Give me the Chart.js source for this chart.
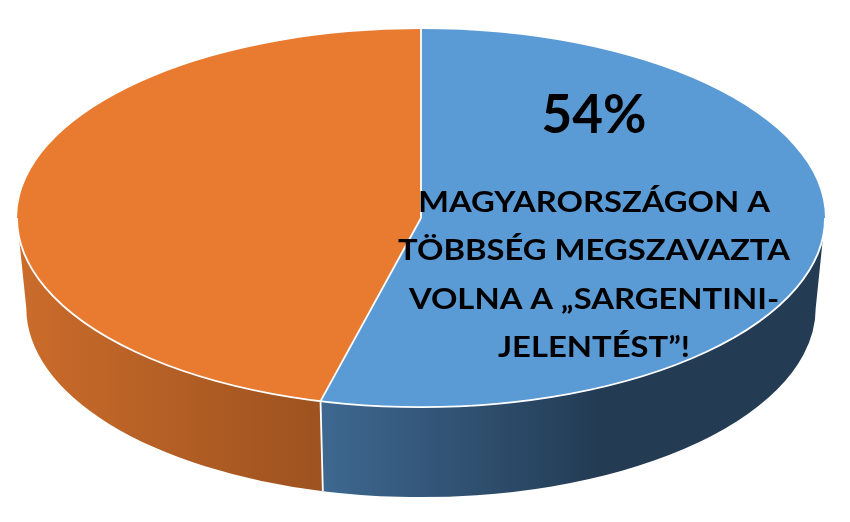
<!DOCTYPE html>
<html>
<head>
<meta charset="utf-8">
<script src="https://cdn.jsdelivr.net/npm/chart.js@4.4.1/dist/chart.umd.min.js"></script>
<style>
  html, body { margin: 0; padding: 0; background: #fff; }
  #wrap { width: 850px; height: 522px; }
</style>
</head>
<body>
<div id="wrap"><canvas id="pie"></canvas></div>
<script>
// data
const categories = ["Megszavazta volna", "Nem szavazta volna meg"];
const shares = [54, 46];
const valueLabel = "54%";
const messageLines = ["MAGYARORSZÁGON A", "TÖBBSÉG MEGSZAVAZTA", "VOLNA A „SARGENTINI-", "JELENTÉST”!"];

// look
const topColors = ["#5b9bd5", "#e97b31"];
const sideColors = [["#3e6891", "#233c54"], ["#cb6c2b", "#9d521f"]];
const TILT = 0.468;        // ellipse height / width
const DEPTH = 90;          // thickness of the disc
const BOTTOM_NARROW = 0.977;
const FONT = "Lato, 'Open Sans', sans-serif";
const TEXT_STRETCH = 1.13;

// visible (front) parts of an arc: canvas angles 0..PI
function frontSpans(arc) {
    const spans = [];
    for (const k of [-2, 0, 2]) {
        const lo = Math.max(arc.startAngle, k * Math.PI);
        const hi = Math.min(arc.endAngle, (k + 1) * Math.PI);
        if (hi > lo) spans.push([lo, hi]);
    }
    return spans;
}

const pie3d = {
    id: "pie3d",
    beforeDatasetsDraw(chart) {
        const ctx = chart.ctx;
        const arcs = chart.getDatasetMeta(0).data;
        if (!arcs.length) return;
        const { x: cx, y: cy, outerRadius: rx } = arcs[0];
        const ry = rx * TILT;

        // side walls
        arcs.forEach((arc, i) => {
            frontSpans(arc).forEach(([s, e]) => {
                const xs = [cx + rx * Math.cos(s), cx + rx * Math.cos(e)];
                const x0 = Math.min(...xs);
                const x1 = Math.max(...xs);
                const g = ctx.createLinearGradient(x0, 0, x1, 0);
                g.addColorStop(0, sideColors[i][0]);
                g.addColorStop(i === 0 ? 0.55 : 1, sideColors[i][1]);
                g.addColorStop(1, sideColors[i][1]);
                ctx.beginPath();
                ctx.ellipse(cx, cy, rx, ry, 0, s, e, false);
                ctx.ellipse(cx, cy + DEPTH, rx * BOTTOM_NARROW, ry, 0, e, s, true);
                ctx.closePath();
                ctx.fillStyle = g;
                ctx.fill();
            });
        });

        // squash the library's own pie into the top face
        ctx.save();
        ctx.translate(cx, cy);
        ctx.scale(1, TILT);
        ctx.translate(-cx, -cy);
    },
    afterDatasetsDraw(chart) {
        const ctx = chart.ctx;
        ctx.restore();
        const arcs = chart.getDatasetMeta(0).data;
        if (!arcs.length) return;
        const { x: cx, y: cy, outerRadius: rx } = arcs[0];
        const ry = rx * TILT;

        ctx.save();
        ctx.strokeStyle = "#ffffff";
        ctx.lineWidth = 1.8;
        // front rim
        ctx.beginPath();
        ctx.ellipse(cx, cy, rx, ry, 0, 0, Math.PI, false);
        ctx.stroke();
        // slice borders on top and side
        arcs.forEach((arc) => {
            const a = arc.startAngle;
            const px = cx + rx * Math.cos(a), py = cy + ry * Math.sin(a);
            ctx.beginPath();
            ctx.moveTo(cx, cy);
            ctx.lineTo(px, py);
            ctx.stroke();
            if (Math.sin(a) > 0) {
                ctx.beginPath();
                ctx.moveTo(px, py);
                ctx.lineTo(cx + rx * BOTTOM_NARROW * Math.cos(a), cy + DEPTH + ry * Math.sin(a));
                ctx.stroke();
            }
        });
        ctx.restore();
    },
};

const labelPlugin = {
    id: "sliceLabel",
    afterDraw(chart) {
        const ctx = chart.ctx;
        const arc = chart.getDatasetMeta(0).data[0];
        if (!arc) return;
        const lx = arc.x + 173;
        ctx.save();
        ctx.fillStyle = "#000000";
        ctx.textAlign = "center";
        ctx.textBaseline = "alphabetic";
        ctx.font = "bold 53px " + FONT;
        ctx.fillText(valueLabel, lx, 133);
        ctx.font = "bold 29px " + FONT;
        messageLines.forEach((line, i) => {
            ctx.save();
            ctx.translate(lx, 212 + i * 48.3);
            ctx.scale(TEXT_STRETCH, 1);
            ctx.fillText(line, 0, 0);
            ctx.restore();
        });
        ctx.restore();
    },
};

new Chart(document.getElementById("pie"), {
    type: "pie",
    data: {
        labels: categories,
        datasets: [{
            data: shares,
            backgroundColor: topColors,
            borderWidth: 0,
            clip: false,
        }],
    },
    options: {
        responsive: true,
        maintainAspectRatio: false,
        animation: false,
        events: [],
        radius: 404,
        layout: { padding: { left: 0, right: 8, top: 0, bottom: 86 } },
        plugins: {
            legend: { display: false },
            tooltip: { enabled: false },
        },
    },
    plugins: [pie3d, labelPlugin],
});
</script>
</body>
</html>
